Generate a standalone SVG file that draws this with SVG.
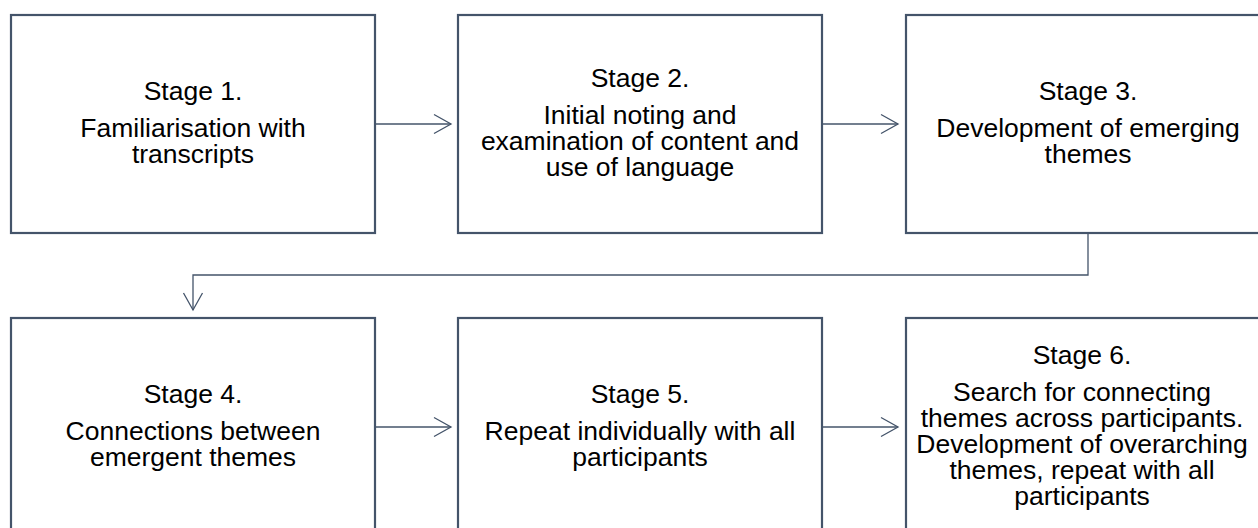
<svg xmlns="http://www.w3.org/2000/svg" width="1258" height="528" viewBox="0 0 1258 528">
  <style>
    .box { fill: #ffffff; stroke: #44546a; stroke-width: 2.2; }
    .label { font-family: "Liberation Sans", Arial, sans-serif; font-size: 26.5px; fill: #000000; text-anchor: middle; }
    .link { fill: none; stroke: #44546a; stroke-width: 1.3; }
  </style>
  <defs>
    <marker id="open-arrow" markerUnits="userSpaceOnUse" markerWidth="22" markerHeight="24" viewBox="0 0 22 24" refX="19" refY="12" orient="auto">
      <path d="M2,2.5 L19,12 L2,21.5" fill="none" stroke="#44546a" stroke-width="1.3"/>
    </marker>
  </defs>
  <rect width="1258" height="528" fill="#ffffff"/>

  <!-- top row -->
  <g id="stage1">
    <rect class="box" x="11" y="15" width="364" height="218"/>
    <text class="label" x="193" y="100">Stage 1.</text>
    <text class="label" x="193" y="137">Familiarisation with</text>
    <text class="label" x="193" y="163">transcripts</text>
  </g>
  <g id="stage2">
    <rect class="box" x="458" y="15" width="364" height="218"/>
    <text class="label" x="640" y="87">Stage 2.</text>
    <text class="label" x="640" y="124">Initial noting and</text>
    <text class="label" x="640" y="150">examination of content and</text>
    <text class="label" x="640" y="176">use of language</text>
  </g>
  <g id="stage3">
    <rect class="box" x="906" y="15" width="364" height="218"/>
    <text class="label" x="1088" y="100">Stage 3.</text>
    <text class="label" x="1088" y="137">Development of emerging</text>
    <text class="label" x="1088" y="163">themes</text>
  </g>

  <!-- bottom row -->
  <g id="stage4">
    <rect class="box" x="11" y="318" width="364" height="218"/>
    <text class="label" x="193" y="403">Stage 4.</text>
    <text class="label" x="193" y="440">Connections between</text>
    <text class="label" x="193" y="466">emergent themes</text>
  </g>
  <g id="stage5">
    <rect class="box" x="458" y="318" width="364" height="218"/>
    <text class="label" x="640" y="403">Stage 5.</text>
    <text class="label" x="640" y="440">Repeat individually with all</text>
    <text class="label" x="640" y="466">participants</text>
  </g>
  <g id="stage6">
    <rect class="box" x="906" y="318" width="364" height="218"/>
    <text class="label" x="1082" y="364">Stage 6.</text>
    <text class="label" x="1082" y="401">Search for connecting</text>
    <text class="label" x="1082" y="427">themes across participants.</text>
    <text class="label" x="1082" y="453">Development of overarching</text>
    <text class="label" x="1082" y="479">themes, repeat with all</text>
    <text class="label" x="1082" y="505">participants</text>
  </g>

  <g id="connectors">
    <path class="link" d="M376,124 H451" marker-end="url(#open-arrow)"/>
    <path class="link" d="M823,124 H898" marker-end="url(#open-arrow)"/>
    <path class="link" d="M1088,234 V275 H193 V310" marker-end="url(#open-arrow)"/>
    <path class="link" d="M376,427 H451" marker-end="url(#open-arrow)"/>
    <path class="link" d="M823,427 H898" marker-end="url(#open-arrow)"/>
  </g>
</svg>
